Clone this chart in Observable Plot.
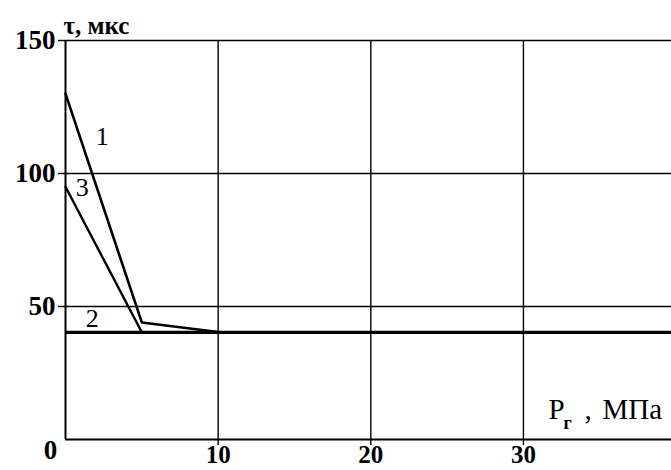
<!DOCTYPE html>
<html>
<head>
<meta charset="utf-8">
<script src="https://cdn.jsdelivr.net/npm/d3@7"></script>
<script src="https://cdn.jsdelivr.net/npm/@observablehq/plot@0.6"></script>
<style>
  html, body { margin: 0; padding: 0; background: #fff; }
  svg { display: block; }
</style>
</head>
<body>
<div id="chart"></div>
<script>
// Data
const curveIds   = ["1", "2", "3"];
const pressure1  = [0, 5, 10];
const tau1       = [130, 44, 40.4];
const pressure2  = [0, 40];
const tau2       = [40.3, 40.3];
const pressure3  = [0, 5];
const tau3       = [95, 40.3];

// curve label anchor points (data units)
const labelX = [2.4, 1.75, 1.1];
const labelY = [114, 45.5, 94.5];

const yTicks = [50, 100, 150];
const xTicks = [10, 20, 30];
const yLabel = "τ, мкс";

const toRows = (xs, ys, id) => xs.map((x, i) => ({x, y: ys[i], id}));
const rows1 = toRows(pressure1, tau1, "1");
const rows2 = toRows(pressure2, tau2, "2");
const rows3 = toRows(pressure3, tau3, "3");
const labels = curveIds.map((id, i) => ({id, x: labelX[i], y: labelY[i]}));

const serif = "'Liberation Serif', 'Times New Roman', serif";

const plot = Plot.plot({
  width: 671,
  height: 470,
  marginLeft: 65,
  marginRight: 0,
  marginTop: 40,
  marginBottom: 31,
  style: {fontFamily: serif, color: "#000", background: "#fff"},
  x: {domain: [0, 39.7]},
  y: {domain: [0, 150]},
  marks: [
    Plot.gridY(yTicks, {stroke: "#000", strokeOpacity: 1, strokeWidth: 1.4}),
    Plot.gridX(xTicks, {stroke: "#000", strokeOpacity: 1, strokeWidth: 1.4}),
    Plot.axisY(yTicks, {
      tickSize: 7, tickPadding: 3, strokeWidth: 1.4,
      fontSize: 27, fontWeight: "bold", label: null
    }),
    Plot.axisX(xTicks, {
      tickSize: 6, tickPadding: 0, strokeWidth: 1.4,
      fontSize: 25, fontWeight: "bold", label: null
    }),
    Plot.ruleX([0], {stroke: "#000", strokeWidth: 2}),
    Plot.ruleY([0], {stroke: "#000", strokeWidth: 2}),
    Plot.text([0], {x: 0, y: 0, text: () => "0", dx: -15, dy: 11,
      fontSize: 27, fontWeight: "bold"}),
    Plot.line(rows2, {x: "x", y: "y", stroke: "#000", strokeWidth: 3.2, clip: true}),
    Plot.line(rows3, {x: "x", y: "y", stroke: "#000", strokeWidth: 2.4}),
    Plot.line(rows1, {x: "x", y: "y", stroke: "#000", strokeWidth: 2.6}),
    Plot.text(labels, {x: "x", y: "y", text: "id", fontSize: 26, fill: "#000"}),
    Plot.text([yLabel], {frameAnchor: "top-left", text: d => d, textAnchor: "start",
      dx: -2, dy: -24, fontSize: 25, fontWeight: "bold", letterSpacing: "3px"}),
    Plot.text(["P"], {frameAnchor: "bottom-right", text: d => d, textAnchor: "start",
      dx: -123, dy: -21, fontSize: 29}),
    Plot.text(["г"], {frameAnchor: "bottom-right", text: d => d, textAnchor: "start",
      dx: -108, dy: -11, fontSize: 18, fontWeight: "bold"}),
    Plot.text([","], {frameAnchor: "bottom-right", text: d => d, textAnchor: "start",
      dx: -87, dy: -21, fontSize: 29}),
    Plot.text(["МПа"], {frameAnchor: "bottom-right", text: d => d, textAnchor: "start",
      dx: -69, dy: -21, fontSize: 29})
  ]
});

document.getElementById("chart").appendChild(plot);
</script>
</body>
</html>
